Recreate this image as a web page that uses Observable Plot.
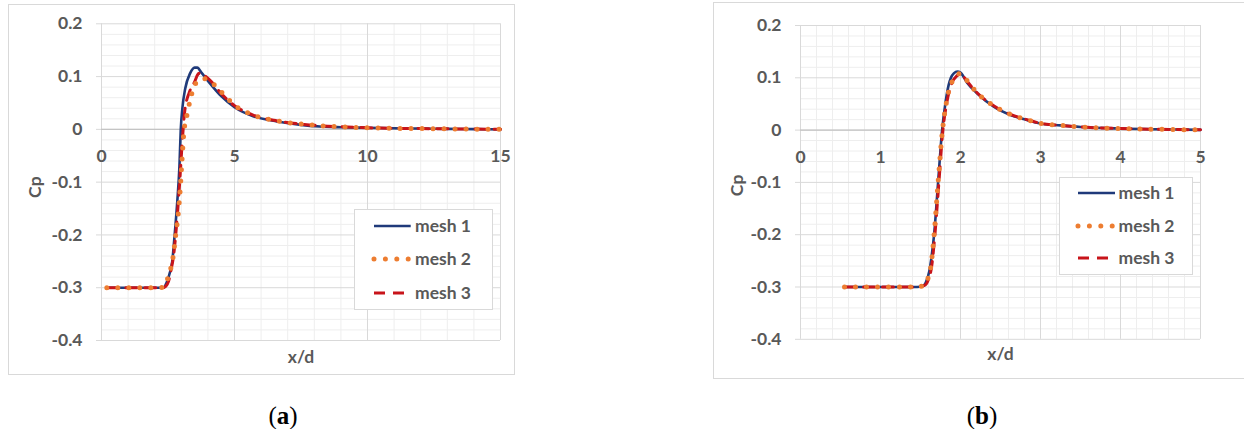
<!DOCTYPE html>
<html>
<head>
<meta charset="utf-8">
<script src="https://cdn.jsdelivr.net/npm/d3@7"></script>
<script src="https://cdn.jsdelivr.net/npm/@observablehq/plot@0.6"></script>
<style>
  html, body { margin: 0; padding: 0; background: #fff; }
  body { width: 1244px; height: 429px; overflow: hidden; position: relative; font-family: Lato, "Open Sans", sans-serif; }
  .panel { position: absolute; outline: 1px solid #d9d9d9; background: #fff; }
  .panel svg { display: block; }
  .legend { position: absolute; background: #fff; border: 1px solid #d9d9d9; box-sizing: border-box; }
  .caption { position: absolute; font-family: "Liberation Serif", "Times New Roman", serif; font-size: 25px; color: #000; transform: translate(-50%, -50%); white-space: nowrap; }
  .legend-text { position: absolute; font-family: Lato, sans-serif; font-weight: 700; font-size: 17.5px; color: #595959; line-height: 20px; transform: translateY(-50%); white-space: nowrap; }
</style>
</head>
<body>
<script>
// ---------- data ----------
const seriesNames = ["mesh 1", "mesh 2", "mesh 3"];
const seriesColors = ["#1F3A7A", "#ED7D31", "#C8141A"];

const yTicks = [0.2, 0.1, 0, -0.1, -0.2, -0.3, -0.4];
const yMinor = [0.18, 0.16, 0.14, 0.12, 0.08, 0.06, 0.04, 0.02, -0.02, -0.04, -0.06, -0.08,
  -0.12, -0.14, -0.16, -0.18, -0.22, -0.24, -0.26, -0.28, -0.32, -0.34, -0.36, -0.38];

// panel (a)
const aXTicks = [0, 5, 10, 15];
const aXMinor = [1, 2, 3, 4, 6, 7, 8, 9, 11, 12, 13, 14];
const aMesh1X = [0.2, 1, 2, 2.34, 2.45, 2.55, 2.66, 2.75, 2.85, 2.93, 2.98, 3.04, 3.15, 3.33, 3.5, 3.6, 3.75, 4.0, 4.5, 5.0, 5.7, 6.6, 7.5, 8.2, 9, 10, 11, 12, 13, 14, 15];
const aMesh1Y = [-0.3, -0.3, -0.3, -0.299, -0.29, -0.275, -0.25, -0.2, -0.136, -0.07, 0, 0.04, 0.078, 0.106, 0.117, 0.117, 0.108, 0.092, 0.063, 0.042, 0.025, 0.015, 0.0085, 0.0055, 0.004, 0.003, 0.002, 0.0015, 0.001, 0.0005, 0];
const aMesh2X = [0.2, 1, 2.2, 2.4, 2.5, 2.69, 2.79, 2.89, 2.95, 3.03, 3.09, 3.23, 3.42, 3.55, 3.7, 3.85, 4.0, 4.23, 4.65, 5.0, 5.7, 6.6, 7.5, 8.2, 9, 10, 11, 12, 13, 14, 15];
const aMesh2Y = [-0.3, -0.3, -0.3, -0.295, -0.28, -0.242, -0.2, -0.157, -0.12, -0.055, -0.01, 0.031, 0.072, 0.088, 0.094, 0.096, 0.093, 0.085, 0.063, 0.046, 0.027, 0.016, 0.01, 0.007, 0.005, 0.003, 0.002, 0.0015, 0.001, 0.0005, 0];
const aMesh3X = [0.2, 1, 2.3, 2.42, 2.52, 2.62, 2.72, 2.79, 2.94, 3.04, 3.13, 3.3, 3.5, 3.62, 3.72, 3.9, 4.1, 4.5, 5.0, 5.7, 6.6, 7.5, 8.2, 9, 10, 11, 12, 13, 14, 15];
const aMesh3Y = [-0.3, -0.3, -0.3, -0.297, -0.288, -0.265, -0.235, -0.2, -0.1, -0.02, 0.035, 0.07, 0.09, 0.104, 0.107, 0.101, 0.092, 0.068, 0.045, 0.027, 0.016, 0.01, 0.007, 0.005, 0.003, 0.002, 0.0015, 0.001, 0.0005, 0];

// panel (b)
const bXTicks = [0, 1, 2, 3, 4, 5];
const bXMinor = [0.2, 0.4, 0.6, 0.8, 1.2, 1.4, 1.6, 1.8, 2.2, 2.4, 2.6, 2.8, 3.2, 3.4, 3.6, 3.8, 4.2, 4.4, 4.6, 4.8];
const bMesh1X = [0.55, 1.0, 1.4, 1.52, 1.57, 1.61, 1.64, 1.67, 1.72, 1.77, 1.81, 1.85, 1.88, 1.92, 1.96, 2.0, 2.08, 2.21, 2.42, 2.625, 2.83, 3.0, 3.25, 3.5, 4.0, 4.5, 5.0];
const bMesh1Y = [-0.3, -0.3, -0.3, -0.299, -0.29, -0.27, -0.24, -0.2, -0.1, 0, 0.05, 0.085, 0.1, 0.109, 0.112, 0.11, 0.091, 0.07, 0.0445, 0.029, 0.0192, 0.0126, 0.009, 0.006, 0.003, 0.0015, 0.0005];
const bMesh2X = [0.55, 1.0, 1.45, 1.54, 1.59, 1.63, 1.67, 1.72, 1.775, 1.815, 1.855, 1.9, 1.95, 1.99, 2.04, 2.1, 2.21, 2.42, 2.625, 2.83, 3.0, 3.25, 3.5, 4.0, 4.5, 5.0];
const bMesh2Y = [-0.3, -0.3, -0.3, -0.297, -0.285, -0.26, -0.2, -0.1, 0, 0.045, 0.076, 0.094, 0.104, 0.108, 0.103, 0.091, 0.071, 0.046, 0.03, 0.02, 0.013, 0.009, 0.006, 0.003, 0.0015, 0.0005];
const bMesh3X = [0.55, 1.0, 1.45, 1.55, 1.6, 1.64, 1.68, 1.73, 1.78, 1.82, 1.86, 1.9, 1.95, 2.0, 2.05, 2.1, 2.21, 2.42, 2.625, 2.83, 3.0, 3.25, 3.5, 4.0, 4.5, 5.0];
const bMesh3Y = [-0.3, -0.3, -0.3, -0.297, -0.285, -0.26, -0.2, -0.1, 0, 0.045, 0.075, 0.093, 0.103, 0.107, 0.1, 0.09, 0.071, 0.046, 0.03, 0.02, 0.013, 0.009, 0.006, 0.003, 0.0015, 0.0005];

// ---------- helpers ----------
function rows(xs, ys, name) { return xs.map((x, i) => ({series: name, x, y: ys[i]})); }

const lineStyles = {
  "mesh 1": {strokeWidth: 2.6},
  "mesh 2": {strokeWidth: 5, strokeDasharray: "0,11", strokeLinecap: "round"},
  "mesh 3": {strokeWidth: 3, strokeDasharray: "11,8"}
};

function drawPanel(cfg) {
  const data = [
    rows(cfg.m1x, cfg.m1y, "mesh 1"),
    rows(cfg.m2x, cfg.m2y, "mesh 2"),
    rows(cfg.m3x, cfg.m3y, "mesh 3")
  ];
  const lineMark = (idx) => Plot.line(data[idx], {
    x: "x", y: "y", stroke: seriesColors[idx], curve: "monotone-x",
    ...lineStyles[seriesNames[idx]]
  });
  const plot = Plot.plot({
    width: cfg.width, height: cfg.height,
    marginLeft: cfg.ml, marginRight: cfg.mr, marginTop: cfg.mt, marginBottom: cfg.mb,
    style: {fontFamily: "Lato, 'Open Sans', sans-serif", fontSize: "17.5px", fontWeight: "700", color: "#595959", background: "#fff", overflow: "visible"},
    x: {domain: cfg.xDomain, axis: null},
    y: {domain: [-0.4, 0.2], axis: null},
    marks: [
      Plot.ruleX(cfg.xMinor, {stroke: "#eeeeee", strokeWidth: 1}),
      Plot.ruleY(yMinor, {stroke: "#eeeeee", strokeWidth: 1}),
      Plot.ruleX(cfg.xTicks, {stroke: "#d9d9d9", strokeWidth: 1}),
      Plot.ruleY(yTicks, {stroke: "#d9d9d9", strokeWidth: 1}),
      Plot.ruleY([0], {stroke: "#c4c4c4", strokeWidth: 1.3}),
      Plot.axisY(yTicks, {tickSize: 5, tickPadding: 14, tickFormat: d => String(d), stroke: "#d9d9d9", fill: "#595959", label: null}),
      Plot.text(cfg.xTicks, {x: d => d, y: () => 0, dy: 27, text: d => String(d), textAnchor: "middle", lineAnchor: "middle", fill: "#595959"}),
      Plot.text(["Cp"], {frameAnchor: "left", dx: cfg.cpDx, dy: cfg.cpDy, rotate: -90, textAnchor: "middle", lineAnchor: "middle", fill: "#595959"}),
      Plot.text(["x/d"], {frameAnchor: "bottom", dy: cfg.xlDy, textAnchor: "middle", lineAnchor: "middle", fill: "#595959"}),
      lineMark(0),
      lineMark(2),
      lineMark(1)
    ]
  });
  const div = document.createElement("div");
  div.className = "panel";
  div.style.left = cfg.left + "px";
  div.style.top = cfg.top + "px";
  div.style.width = cfg.width + "px";
  div.style.height = cfg.height + "px";
  div.appendChild(plot);
  document.body.appendChild(div);

  // legend
  const lg = document.createElement("div");
  lg.className = "legend";
  lg.style.left = cfg.lg.left + "px";
  lg.style.top = cfg.lg.top + "px";
  lg.style.width = (cfg.lg.right - cfg.lg.left) + "px";
  lg.style.height = (cfg.lg.bottom - cfg.lg.top) + "px";
  document.body.appendChild(lg);
  seriesNames.forEach((name, i) => {
    const yc = cfg.lg.rows[i];
    const sw = cfg.lg.sampleR - cfg.lg.sampleL;
    const svg = d3.create("svg")
      .attr("width", sw + 6).attr("height", 12)
      .style("position", "absolute")
      .style("left", (cfg.lg.sampleL - 3) + "px")
      .style("top", (yc - 6) + "px")
      .style("overflow", "visible");
    const st = lineStyles[name];
    svg.append("line")
      .attr("x1", 3).attr("x2", 3 + sw).attr("y1", 6).attr("y2", 6)
      .attr("stroke", seriesColors[i])
      .attr("stroke-width", st.strokeWidth)
      .attr("stroke-dasharray", name === "mesh 2" ? "0,11.4" : (st.strokeDasharray || null))
      .attr("stroke-linecap", st.strokeLinecap || "butt");
    document.body.appendChild(svg.node());
    const t = document.createElement("div");
    t.className = "legend-text";
    t.style.left = cfg.lg.textL + "px";
    t.style.top = yc + "px";
    t.textContent = name;
    document.body.appendChild(t);
  });

  const cap = document.createElement("div");
  cap.className = "caption";
  cap.style.left = cfg.cap.x + "px";
  cap.style.top = cfg.cap.y + "px";
  cap.innerHTML = "(<b>" + cfg.cap.letter + "</b>)";
  document.body.appendChild(cap);
}

drawPanel({
  left: 9, top: 5, width: 505, height: 369,
  ml: 92, mr: 14, mt: 18.3, mb: 34,
  xDomain: [0, 15], xTicks: aXTicks, xMinor: aXMinor,
  m1x: aMesh1X, m1y: aMesh1Y, m2x: aMesh2X, m2y: aMesh2Y, m3x: aMesh3X, m3y: aMesh3Y,
  cpDx: -66, cpDy: 5, xlDy: 17,
  lg: {left: 354, top: 209, right: 493, bottom: 310, rows: [226, 259.3, 293], sampleL: 374, sampleR: 410.7, textL: 415},
  cap: {x: 283, y: 416, letter: "a"}
});

drawPanel({
  left: 714, top: 3, width: 540, height: 375,
  ml: 86, mr: 54, mt: 22, mb: 39.2,
  xDomain: [0, 5], xTicks: bXTicks, xMinor: bXMinor,
  m1x: bMesh1X, m1y: bMesh1Y, m2x: bMesh2X, m2y: bMesh2Y, m3x: bMesh3X, m3y: bMesh3Y,
  cpDx: -63.5, cpDy: 3, xlDy: 15,
  lg: {left: 1059, top: 177, right: 1193, bottom: 275, rows: [193.3, 226, 258.3], sampleL: 1078, sampleR: 1115, textL: 1118.5},
  cap: {x: 982, y: 416, letter: "b"}
});
</script>
</body>
</html>
